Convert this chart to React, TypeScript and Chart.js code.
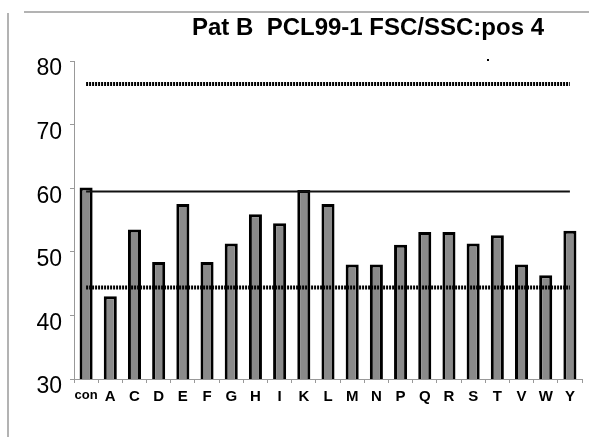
import React, { useEffect, useRef } from "react";
import { Chart, registerables } from "chart.js";

Chart.register(...registerables);

const categories = ["con", "A", "C", "D", "E", "F", "G", "H", "I", "K", "L", "M", "N", "P", "Q", "R", "S", "T", "V", "W", "Y"];
const values = [60.1, 43.0, 53.5, 48.4, 57.5, 48.4, 51.3, 55.9, 54.5, 59.7, 57.5, 48.0, 48.0, 51.1, 53.1, 53.1, 51.3, 52.6, 48.0, 46.3, 53.3];
const upperLimit = 76.4;
const meanLine = 59.5;
const lowerLimit = 44.4;
const yTicks = [30, 40, 50, 60, 70, 80];
const titleText = "Pat B  PCL99-1 FSC/SSC:pos 4";

const framePlugin = {
  id: "frame",
  beforeDraw(chart: any) {
    const ctx = chart.ctx;
    ctx.save();
    ctx.fillStyle = "#ffffff";
    ctx.fillRect(0, 0, chart.width, chart.height);
    ctx.strokeStyle = "#9a9a9a";
    ctx.lineWidth = 1.5;
    ctx.beginPath();
    ctx.moveTo(8, 13);
    ctx.lineTo(8, chart.height);
    ctx.moveTo(24, 12);
    ctx.lineTo(chart.width, 12);
    ctx.stroke();
    ctx.fillStyle = "#000";
    ctx.font = "bold 24px 'Liberation Sans', Arial, sans-serif";
    ctx.textAlign = "center";
    ctx.textBaseline = "middle";
    ctx.fillText(titleText, 368, 28);
    ctx.fillRect(487, 59, 2, 2);
    ctx.restore();
  },
};

export default function App() {
  const ref = useRef<HTMLCanvasElement>(null);
  useEffect(() => {
    document.body.style.margin = "0";
    const flat = (v: number) => categories.map(() => v);
    const chart = new Chart(ref.current!, {
      type: "bar",
      data: {
        labels: categories,
        datasets: [
          {
            type: "line",
            data: flat(upperLimit),
            borderColor: "#000",
            borderWidth: 4,
            borderDash: [2, 1],
            pointRadius: 0,
            order: 0,
          } as any,
          {
            type: "line",
            data: flat(meanLine),
            borderColor: "#111",
            borderWidth: 2,
            pointRadius: 0,
            order: 0,
          } as any,
          {
            type: "line",
            data: flat(lowerLimit),
            borderColor: "#000",
            borderWidth: 4,
            borderDash: [2, 1],
            pointRadius: 0,
            order: 0,
          } as any,
          {
            type: "bar",
            data: values,
            backgroundColor: "#8a8a8a",
            borderColor: "#000",
            borderWidth: 3,
            barPercentage: 0.54,
            categoryPercentage: 1,
            order: 1,
          },
        ],
      },
      plugins: [framePlugin],
      options: {
        responsive: false,
        animation: false,
        layout: { padding: { left: 0, right: 7, top: 61, bottom: 0 } },
        plugins: { legend: { display: false }, tooltip: { enabled: false }, title: { display: false } },
        scales: {
          x: {
            grid: { display: true, drawOnChartArea: false, drawTicks: true, tickLength: 4, color: "#999", offset: true },
            border: { display: true, color: "#999", width: 1 },
            ticks: {
              color: "#000",
              padding: 5,
              maxRotation: 0,
              autoSkip: false,
              font: (ctx: any) =>
                ctx.index === 0
                  ? { family: "'Liberation Sans', Arial, sans-serif", size: 13, weight: "bold" }
                  : { family: "'Liberation Sans', Arial, sans-serif", size: 15, weight: "bold" },
            },
            afterFit: (s: any) => { s.height = 58; },
          },
          y: {
            min: 30,
            max: 80,
            afterBuildTicks: (s: any) => { s.ticks = yTicks.map((v) => ({ value: v })); },
            grid: { display: true, drawOnChartArea: false, drawTicks: true, tickLength: 4, color: "#999" },
            border: { display: true, color: "#999", width: 1 },
            ticks: {
              color: "#000",
              padding: 8,
              labelOffset: 8,
              font: { family: "'Liberation Sans', Arial, sans-serif", size: 23 },
            },
            afterFit: (s: any) => { s.width = 74; },
          },
        },
      },
    });
    return () => chart.destroy();
  }, []);
  return <canvas ref={ref} width={589} height={437} style={{ display: "block" }} />;
}
